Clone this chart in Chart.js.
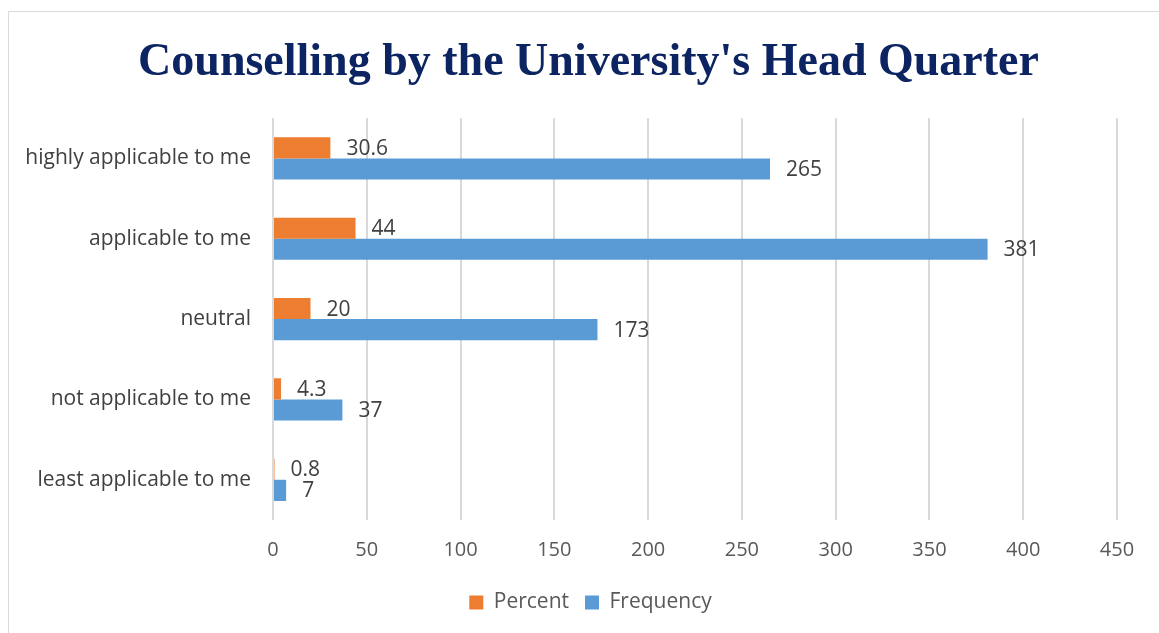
<!DOCTYPE html>
<html>
<head>
<meta charset="utf-8">
<script src="https://cdn.jsdelivr.net/npm/chart.js@4"></script>
<style>
  html, body { margin: 0; padding: 0; background: #ffffff; overflow: hidden; }
  #frame { position: absolute; left: 8px; top: 11px; width: 1200px; height: 700px; border: 1px solid #d9d9d9; box-sizing: border-box; }
  #wrap { position: absolute; left: 0; top: 0; width: 1159px; height: 633px; }
</style>
</head>
<body>
<div id="frame"></div>
<div id="wrap"><canvas id="c" width="1159" height="633"></canvas></div>
<script>
const categories = ["highly applicable to me", "applicable to me", "neutral", "not applicable to me", "least applicable to me"];
const percentValues = [30.6, 44, 20, 4.3, 0.8];
const frequencyValues = [265, 381, 173, 37, 7];
const seriesNames = ["Percent", "Frequency"];
const xTicks = [0, 50, 100, 150, 200, 250, 300, 350, 400, 450];
const titleText = "Counselling by the University's Head Quarter";

const valueLabels = {
  id: 'valueLabels',
  afterDatasetsDraw(chart) {
    const ctx = chart.ctx;
    ctx.save();
    ctx.font = '21px "Open Sans"';
    ctx.fillStyle = '#404040';
    ctx.textAlign = 'left';
    ctx.textBaseline = 'middle';
    chart.data.datasets.forEach((ds, di) => {
      const meta = chart.getDatasetMeta(di);
      meta.data.forEach((el, i) => {
        ctx.fillText(String(ds.data[i]), el.x + 16, el.y + 1);
      });
    });
    ctx.restore();
  }
};

// shift title and legend blocks so they are centred on the whole frame, as in the original
const recentre = {
  id: 'recentre',
  afterLayout(chart) {
    if (chart.titleBlock) { chart.titleBlock.left += 30; chart.titleBlock.right += 30; }
    if (chart.legend) { chart.legend.left += 32; chart.legend.right += 32; }
  }
};

new Chart(document.getElementById('c'), {
  type: 'bar',
  data: {
    labels: categories,
    datasets: [
      { label: seriesNames[0], data: percentValues, backgroundColor: '#ED7D31', categoryPercentage: 0.525, barPercentage: 1.0 },
      { label: seriesNames[1], data: frequencyValues, backgroundColor: '#5B9BD5', categoryPercentage: 0.525, barPercentage: 1.0 }
    ]
  },
  options: {
    indexAxis: 'y',
    responsive: false,
    animation: false,
    layout: { padding: { left: 0, right: 42, top: 0, bottom: 10 } },
    plugins: {
      title: {
        display: true,
        text: titleText,
        color: '#0c2461',
        font: { family: '"Liberation Serif"', size: 46, weight: 'bold', lineHeight: 1.2 },
        padding: { top: 36, bottom: 27 }
      },
      legend: {
        display: true,
        position: 'bottom',
        labels: {
          color: '#595959',
          font: { family: '"Open Sans"', size: 21 },
          boxWidth: 14,
          boxHeight: 14,
          padding: 16
        }
      },
      tooltip: { enabled: false }
    },
    scales: {
      x: {
        min: 0,
        max: 450,
        afterBuildTicks(scale) { scale.ticks = xTicks.map(v => ({ value: v })); },
        grid: { color: '#d9d9d9', lineWidth: 2, drawTicks: false },
        border: { display: false },
        ticks: { color: '#595959', font: { family: '"Open Sans"', size: 20 }, padding: 18 },
        afterFit(scale) { scale.height = 56; }
      },
      y: {
        grid: { display: false, drawTicks: false },
        border: { display: false },
        ticks: { color: '#404040', font: { family: '"Open Sans"', size: 21 }, padding: 22 },
        afterFit(scale) { scale.width = 273; }
      }
    }
  },
  plugins: [valueLabels, recentre]
});
</script>
</body>
</html>
